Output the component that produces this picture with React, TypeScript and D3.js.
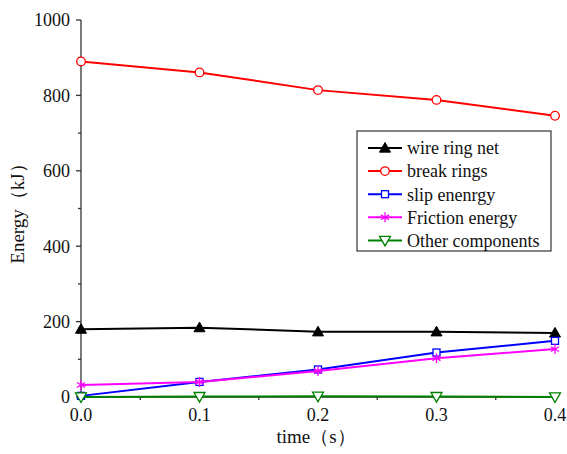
import React from "react";
import * as d3 from "d3";

const times = [0, 0.1, 0.2, 0.3, 0.4];
const wireRingNet = [180, 184, 173, 173, 170];
const breakRings = [890, 861, 814, 788, 746];
const slipEnergy = [3, 40, 73, 118, 149];
const frictionEnergy = [32, 40, 69, 103, 127];
const otherComponents = [0, 1, 2, 1, 0];
const xTicks = [0, 0.1, 0.2, 0.3, 0.4];
const yTicks = [0, 200, 400, 600, 800, 1000];
const seriesNames = ["wire ring net", "break rings", "slip enenrgy", "Friction energy", "Other components"];

const W = 567, H = 454;
const FONT = "'Liberation Serif', 'Times New Roman', serif";

type Sym = "tri" | "circle" | "square" | "star" | "triDown";

function Marker({ sym, x, y, color }: { sym: Sym; x: number; y: number; color: string }) {
  if (sym === "tri") {
    const s = 5.5;
    return <path d={`M${x},${y - s}L${x + s},${y + s * 0.75}L${x - s},${y + s * 0.75}Z`} fill={color} stroke={color} strokeWidth={1} />;
  }
  if (sym === "circle") return <circle cx={x} cy={y} r={4.3} fill="white" stroke={color} strokeWidth={1.3} />;
  if (sym === "square") return <rect x={x - 3.5} y={y - 3.5} width={7} height={7} fill="white" stroke={color} strokeWidth={1.3} />;
  if (sym === "triDown") {
    const s = 5.5;
    return <path d={`M${x - s},${y - s * 0.75}L${x + s},${y - s * 0.75}L${x},${y + s}Z`} fill="white" stroke={color} strokeWidth={1.3} />;
  }
  const s = 5;
  const d = s * 0.8;
  return (
    <path
      d={`M${x},${y - s}L${x},${y + s}M${x - d},${y - d * 0.6}L${x + d},${y + d * 0.6}M${x - d},${y + d * 0.6}L${x + d},${y - d * 0.6}`}
      stroke={color}
      strokeWidth={1.3}
      fill="none"
    />
  );
}

const txt = { fontFamily: FONT, fill: "#111" } as React.CSSProperties;

export default function App() {
  const x = d3.scaleLinear().domain([0, 0.4]).range([81, 555]);
  const y = d3.scaleLinear().domain([0, 1000]).range([397, 20]);

  const series: { name: string; values: number[]; color: string; sym: Sym }[] = [
    { name: seriesNames[0], values: wireRingNet, color: "#000000", sym: "tri" },
    { name: seriesNames[1], values: breakRings, color: "#ff0000", sym: "circle" },
    { name: seriesNames[2], values: slipEnergy, color: "#0000ff", sym: "square" },
    { name: seriesNames[3], values: frictionEnergy, color: "#ff00ff", sym: "star" },
    { name: seriesNames[4], values: otherComponents, color: "#008000", sym: "triDown" },
  ];

  const line = d3
    .line<number>()
    .x((_, i) => x(times[i]))
    .y((v) => y(v));

  const xMinor = d3.range(0.05, 0.4, 0.1);
  const yMinor = d3.range(100, 1000, 200);

  const lx = 357, ly = 131, lw = 194, lh = 120;

  return (
    <svg width={W} height={H} style={{ position: "absolute", left: 0, top: 0 }}>
      <rect width={W} height={H} fill="white" />
      <line x1={81} y1={y(1000)} x2={81} y2={397} stroke="#333" strokeWidth={1.3} />
      <line x1={81} y1={397} x2={555} y2={397} stroke="#333" strokeWidth={1.3} />
      {yTicks.map((t) => (
        <g key={"yt" + t}>
          <line x1={76} x2={81} y1={y(t)} y2={y(t)} stroke="#333" strokeWidth={1.3} />
          <text x={70} y={y(t)} dy="0.35em" textAnchor="end" fontSize={18} style={txt}>
            {t}
          </text>
        </g>
      ))}
      {yMinor.map((t) => (
        <line key={"ym" + t} x1={78} x2={81} y1={y(t)} y2={y(t)} stroke="#333" strokeWidth={1.3} />
      ))}
      {xTicks.map((t) => (
        <g key={"xt" + t}>
          <line x1={x(t)} x2={x(t)} y1={397} y2={402} stroke="#333" strokeWidth={1.3} />
          <text x={x(t)} y={421} textAnchor="middle" fontSize={18} style={txt}>
            {t.toFixed(1)}
          </text>
        </g>
      ))}
      {xMinor.map((t) => (
        <line key={"xm" + t} x1={x(t)} x2={x(t)} y1={397} y2={400} stroke="#333" strokeWidth={1.3} />
      ))}
      <text x={316} y={443} textAnchor="middle" fontSize={19} style={txt}>
        time（s）
      </text>
      <text transform={`translate(24,${209}) rotate(-90)`} textAnchor="middle" fontSize={19} style={txt}>
        Energy（kJ）
      </text>

      {series.map((s) => (
        <g key={s.name}>
          <path d={line(s.values) || ""} fill="none" stroke={s.color} strokeWidth={2} />
          {s.values.map((v, i) => (
            <Marker key={i} sym={s.sym} x={x(times[i])} y={y(v)} color={s.color} />
          ))}
        </g>
      ))}

      <rect x={lx} y={ly} width={lw} height={lh} fill="white" stroke="#333" strokeWidth={1.2} />
      {series.map((s, i) => {
        const yy = 148 + i * 23.1;
        return (
          <g key={"lg" + s.name}>
            <line x1={368} x2={402} y1={yy} y2={yy} stroke={s.color} strokeWidth={2} />
            <Marker sym={s.sym} x={385} y={yy} color={s.color} />
            <text x={407} y={yy} dy="0.35em" fontSize={18} style={txt}>
              {s.name}
            </text>
          </g>
        );
      })}
    </svg>
  );
}
